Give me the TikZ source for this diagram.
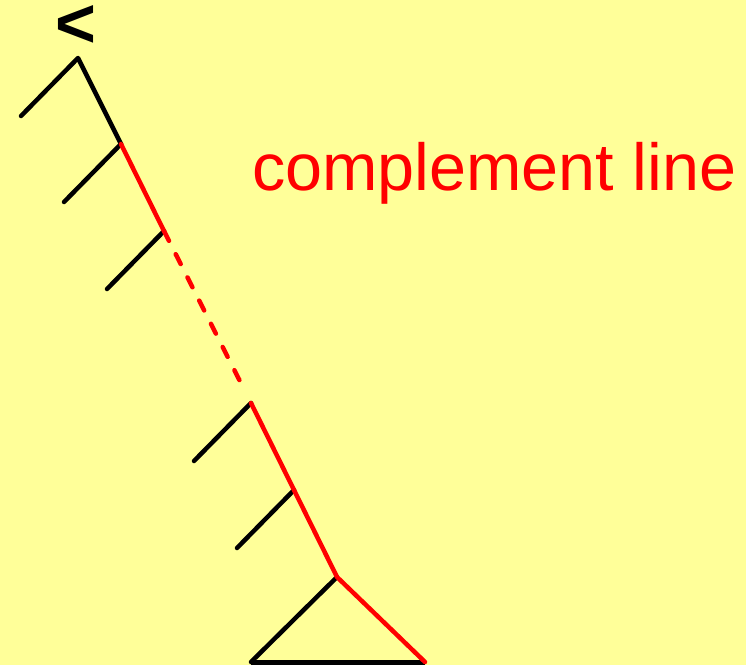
\documentclass[tikz,border=0pt]{standalone}
\usepackage{fontspec}
\setmainfont{Liberation Sans}
\usetikzlibrary{calc}
\begin{document}
\begin{tikzpicture}[x=1pt,y=-1pt,
  blk/.style={draw=black,line width=4.5pt,line cap=round,line join=round},
  red/.style={draw=red,line width=4.5pt,line cap=round,line join=round},
  reddash/.style={red,dash pattern=on 11pt off 15pt}]
\fill[fill={rgb,255:red,255;green,255;blue,153}] (0,0) rectangle (746,665);
\useasboundingbox (0,0) rectangle (746,665);
% spine nodes
\coordinate (n1) at (78,58);
\coordinate (n2) at (121,144);
\coordinate (n3) at (164,231);
\coordinate (n4) at (251,403);
\coordinate (n5) at (294,490);
\coordinate (n6) at (337,577);
% branch ends
\coordinate (b1) at (21,116);
\coordinate (b2) at (64,202);
\coordinate (b3) at (107,289);
\coordinate (b4) at (194,461);
\coordinate (b5) at (237,548);
% triangle corners
\coordinate (tl) at (251,662);
\coordinate (tr) at (425,662);
\coordinate (dend) at ($(n3)!0.87!(n4)$);
% black parts
\draw[blk] (b1) -- (n1) -- (n2);
\draw[blk] (b2) -- (n2);
\draw[blk] (b3) -- (n3);
\draw[blk] (b4) -- (n4);
\draw[blk] (b5) -- (n5);
\draw[blk] (n6) -- (tl);
\draw[draw=black,line width=5pt] (tl) -- (tr);
% red complement line
\draw[red] (n2) -- (n3);
\draw[reddash] (n3) -- (dend);
\draw[red] (n4) -- (n5) -- (n6) -- (tr);
% labels
\node[font=\fontsize{70}{70}\selectfont\bfseries,inner sep=0pt] (lt) at (75.5,26) {<};
\node[font=\fontsize{66.5}{66.5}\selectfont,text=red,anchor=base west,inner sep=0pt] (lbl) at (252,190) {complement line};
\end{tikzpicture}
\end{document}
